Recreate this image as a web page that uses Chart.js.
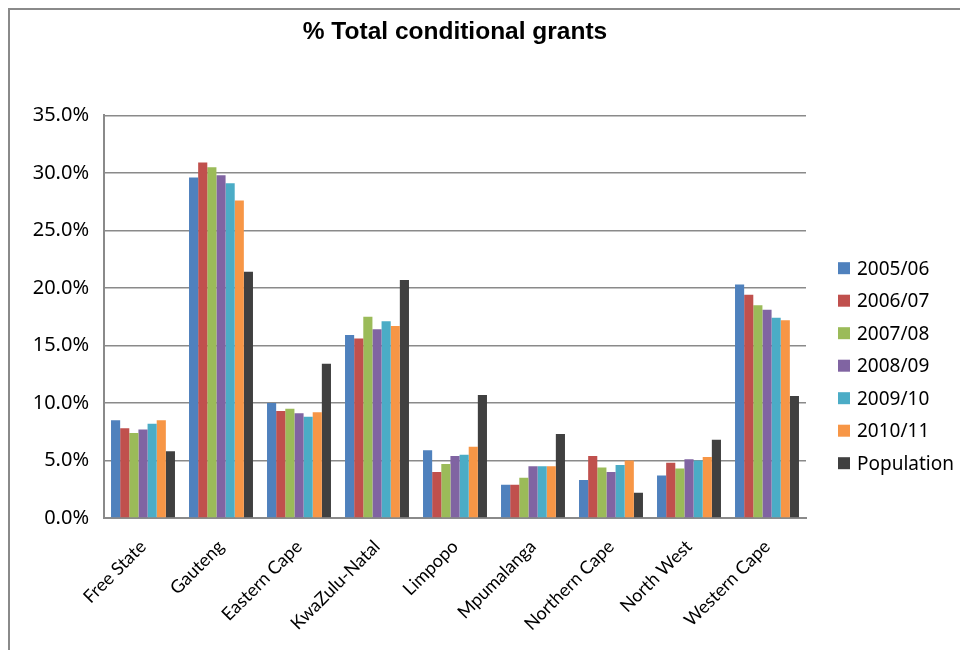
<!DOCTYPE html>
<html>
<head>
<meta charset="utf-8">
<script src="https://cdn.jsdelivr.net/npm/chart.js@4.4.0/dist/chart.umd.min.js"></script>
<style>
  body { margin: 0; overflow: hidden; background: #fff; }
  #frame { position: absolute; left: 8px; top: 8px; width: 1000px; height: 700px; border: 2px solid #8a8a8a; }
  #wrap { position: absolute; left: 0; top: 0; width: 960px; height: 650px; }
</style>
</head>
<body>
<div id="frame"></div>
<div id="wrap"><canvas id="chartGrants"></canvas></div>
<script>
const provinces = [
  "Free State",
  "Gauteng",
  "Eastern Cape",
  "KwaZulu-Natal",
  "Limpopo",
  "Mpumalanga",
  "Northern Cape",
  "North West",
  "Western Cape",
];

// % share per province
const fy0506 = [8.5, 29.6, 10.0, 15.9, 5.9, 2.9, 3.3, 3.7, 20.3];
const fy0607 = [7.8, 30.9, 9.3, 15.6, 4.0, 2.9, 5.4, 4.8, 19.4];
const fy0708 = [7.4, 30.5, 9.5, 17.5, 4.7, 3.5, 4.4, 4.3, 18.5];
const fy0809 = [7.7, 29.8, 9.1, 16.4, 5.4, 4.5, 4.0, 5.1, 18.1];
const fy0910 = [8.2, 29.1, 8.8, 17.1, 5.5, 4.5, 4.6, 5.0, 17.4];
const fy1011 = [8.5, 27.6, 9.2, 16.7, 6.2, 4.5, 5.0, 5.3, 17.2];
const population = [5.8, 21.4, 13.4, 20.7, 10.7, 7.3, 2.2, 6.8, 10.6];

const seriesNames = ["2005/06", "2006/07", "2007/08", "2008/09", "2009/10", "2010/11", "Population"];
const seriesData = [fy0506, fy0607, fy0708, fy0809, fy0910, fy1011, population];
const seriesColors = ["#4F81BD", "#C0504D", "#9BBB59", "#8064A2", "#4BACC6", "#F79646", "#404040"];

const yTicks = [0, 5, 10, 15, 20, 25, 30, 35];

// legend drawn on the right, like the excel one
const sideLegend = {
  id: "sideLegend",
  afterDraw(chart) {
    const c = chart.ctx;
    const area = chart.chartArea;
    const x = area.right + 32;
    const step = 32.5;
    const n = chart.data.datasets.length;
    const y0 = (area.top + area.bottom) / 2 + 49 - (step * (n - 1)) / 2;
    c.save();
    c.font = "19px 'Noto Sans'";
    c.textBaseline = "middle";
    chart.data.datasets.forEach((ds, i) => {
      const y = y0 + i * step;
      c.fillStyle = ds.backgroundColor;
      c.fillRect(x, y - 6, 12, 12);
      c.fillStyle = "#000";
      c.fillText(ds.label, x + 19, y + 1);
    });
    c.restore();
  },
};

const ctx = document.getElementById("chartGrants").getContext("2d");

const chartGrants = new Chart(ctx, {
  type: "bar",
  data: {
    labels: provinces,
    datasets: seriesNames.map((name, i) => ({
      label: name,
      data: seriesData[i],
      backgroundColor: seriesColors[i],
      borderWidth: 0,
      categoryPercentage: 0.82,
      barPercentage: 1.0,
    })),
  },
  options: {
    responsive: true,
    maintainAspectRatio: false,
    animation: false,
    layout: {
      padding: { left: 32, right: 154, top: 0, bottom: 0 },
    },
    plugins: {
      legend: { display: false },
      tooltip: { enabled: false },
      title: {
        display: true,
        fullSize: false,
        text: "% Total conditional grants",
        color: "#000",
        font: { family: "'Liberation Sans', Arial", size: 24.5, weight: "bold" },
        padding: { top: 18, bottom: 68 },
      },
    },
    scales: {
      x: {
        grid: { display: false },
        border: { display: true, color: "#8a8a8a", width: 2 },
        ticks: {
          autoSkip: false,
          maxRotation: 45,
          minRotation: 45,
          padding: 10,
          color: "#000",
          font: { family: "Lato", size: 18 },
        },
        afterFit(scale) {
          scale.height = 132;
        },
      },
      y: {
        min: 0,
        max: 35,
        afterBuildTicks(scale) {
          scale.ticks = yTicks.map((v) => ({ value: v }));
        },
        grid: { color: "#8a8a8a", lineWidth: 1.5, drawTicks: false },
        border: { display: true, color: "#8a8a8a", width: 2 },
        ticks: {
          padding: 15,
          color: "#000",
          font: { family: "'Noto Sans'", size: 20 },
          callback: (v) => v.toFixed(1) + "%",
        },
        afterFit(scale) {
          scale.width = 72;
        },
      },
    },
  },
  plugins: [sideLegend],
});
</script>
</body>
</html>
